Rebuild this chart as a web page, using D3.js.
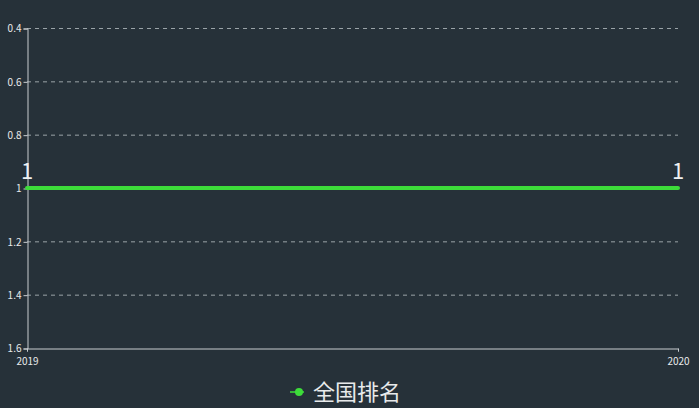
<!DOCTYPE html>
<html>
<head>
<meta charset="utf-8">
<script src="https://cdn.jsdelivr.net/npm/d3@7"></script>
<style>
  html, body { margin: 0; padding: 0; background: #263139; }
  svg { display: block; font-family: "Noto Sans CJK SC", "Noto Sans", sans-serif; }
</style>
</head>
<body>
<svg id="chart" width="699" height="408"></svg>
<script>
// data
var years = ["2019", "2020"];
var rank = [1, 1];
var yTicks = [0.4, 0.6, 0.8, 1, 1.2, 1.4, 1.6];
var seriesName = "全国排名";

var W = 699, H = 408;
var m = {top: 28, right: 21, bottom: 60, left: 27};

var svg = d3.select("#chart");
svg.append("rect").attr("width", W).attr("height", H).attr("fill", "#263139");

var x = d3.scalePoint().domain(years).range([m.left, W - m.right]).padding(0);
// rank axis is inverted: small values on top
var y = d3.scaleLinear().domain([0.4, 1.6]).range([m.top, H - m.bottom]);

// grid
svg.append("g")
  .selectAll("line")
  .data(yTicks.filter(function(d){ return d < 1.6; }))
  .enter().append("line")
    .attr("x1", m.left).attr("x2", W - m.right)
    .attr("y1", function(d){ return y(d) + 0.5; })
    .attr("y2", function(d){ return y(d) + 0.5; })
    .attr("stroke", "#9aa3a8")
    .attr("stroke-width", 1)
    .attr("stroke-dasharray", "4,4");

// y axis
var yAxis = svg.append("g")
  .attr("transform", "translate(" + (m.left + 0.5) + ",0.5)")
  .call(d3.axisLeft(y).tickValues(yTicks).tickSize(4).tickPadding(2)
    .tickFormat(function(d){ return d3.format("")(+d.toFixed(1)); }));
yAxis.select(".domain").attr("stroke", "#c8cdd0");
yAxis.selectAll(".tick line").attr("stroke", "#c8cdd0");
yAxis.selectAll("text").attr("fill", "#e8eaeb").attr("font-size", "10px")
  .attr("font-family", "'Noto Sans CJK SC', sans-serif");

// x axis
var xAxis = svg.append("g")
  .attr("transform", "translate(0," + (H - m.bottom + 0.5) + ")")
  .call(d3.axisBottom(x).tickSize(3).tickPadding(6));
xAxis.select(".domain").attr("stroke", "#c8cdd0");
xAxis.selectAll(".tick line").attr("stroke", "#c8cdd0");
xAxis.selectAll("text").attr("fill", "#e8eaeb").attr("font-size", "10px")
  .attr("font-family", "'Noto Sans CJK SC', sans-serif");

// line
var pts = years.map(function(d, i){ return {year: d, v: rank[i]}; });
svg.append("path")
  .datum(pts)
  .attr("fill", "none")
  .attr("stroke", "#3ddc3a")
  .attr("stroke-width", 4)
  .attr("stroke-linecap", "round")
  .attr("d", d3.line().x(function(d){ return x(d.year); }).y(function(d){ return y(d.v); }));

// value labels
svg.append("g")
  .selectAll("text")
  .data(pts)
  .enter().append("text")
    .attr("x", function(d){ return x(d.year); })
    .attr("y", function(d){ return y(d.v) - 9; })
    .attr("text-anchor", "middle")
    .attr("fill", "#eef0f1")
    .attr("font-size", "22px")
    .text(function(d){ return d.v; });

// legend
var lg = svg.append("g").attr("transform", "translate(290,392)");
lg.append("line").attr("x1", 0).attr("x2", 14).attr("y1", 0).attr("y2", 0)
  .attr("stroke", "#3ddc3a").attr("stroke-width", 1.5);
lg.append("circle").attr("cx", 9).attr("cy", 0).attr("r", 4).attr("fill", "#3ddc3a");
lg.append("text").attr("x", 23).attr("y", 8).attr("fill", "#e8eaeb")
  .attr("font-size", "22px").text(seriesName);
</script>
</body>
</html>
